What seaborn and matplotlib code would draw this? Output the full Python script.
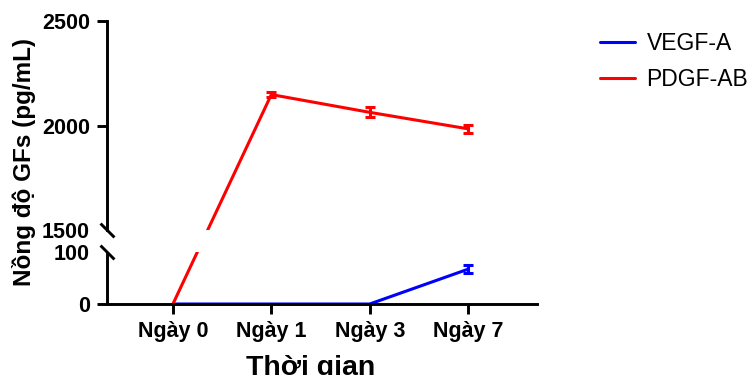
import numpy as np
import pandas as pd
import seaborn as sns
import matplotlib.pyplot as plt

# ---- data ----
days = ["Ngày 0", "Ngày 1", "Ngày 3", "Ngày 7"]
vegf = [0, 0, 0, 67]
vegf_err = [0, 0, 0, 8]
pdgf = [0, 2148, 2063, 1984]
pdgf_err = [0, 13, 24, 19]
series_names = ["VEGF-A", "PDGF-AB"]
colors = {"VEGF-A": "#0000FF", "PDGF-AB": "#FF0000"}
yticks = [0, 100, 1500, 2000, 2500]

sns.set_theme(style="ticks")
plt.rcParams['font.family'] = ['Liberation Sans', 'DejaVu Sans']
plt.rcParams['text.color'] = 'black'

# broken-axis scale: 0-100 and 1500-2500 segments
def fwd(v):
    v = np.asarray(v, dtype=float)
    return np.where(v <= 100, v * 0.52,
                    np.where(v < 1500, 52 + (v - 100) * 22 / 1400,
                             74 + (v - 1500) * 104.5 / 500))

def inv(u):
    u = np.asarray(u, dtype=float)
    return np.where(u <= 52, u / 0.52,
                    np.where(u < 74, 100 + (u - 52) * 1400 / 22,
                             1500 + (u - 74) * 500 / 104.5))

fig = plt.figure(figsize=(7.49, 3.75), dpi=100)
ax = fig.add_axes([107 / 749, 71 / 375, 430 / 749, 283 / 375])
ax.set_yscale('function', functions=(fwd, inv))

LW = 2.2
df = pd.DataFrame({
    "Ngày": days * 2,
    "value": vegf + pdgf,
    "series": [series_names[0]] * 4 + [series_names[1]] * 4,
})
sns.lineplot(data=df, x="Ngày", y="value", hue="series", palette=colors,
             hue_order=series_names, sort=False, linewidth=LW, ax=ax,
             clip_on=False)
for ln in ax.get_lines():
    ln.set_clip_on(False)
    if ln.get_label() == "VEGF-A":
        ln.set_zorder(2.3)

xpos = np.arange(len(days))
for vals, errs, name in [(vegf, vegf_err, "VEGF-A"), (pdgf, pdgf_err, "PDGF-AB")]:
    vals = np.array(vals); errs = np.array(errs)
    m = errs > 0
    ax.errorbar(xpos[m], vals[m], yerr=errs[m], fmt='none', ecolor=colors[name],
                elinewidth=LW, capsize=3.5, capthick=LW, zorder=2.4)

# gap in the data across the break
ax.axhspan(100, 1500, xmin=0.012, xmax=1, color='white', lw=0, zorder=2.6)

ax.set_xlim(-0.67, 3.7)
ax.set_ylim(0, 2500)
ax.set_yticks(yticks)
ax.set_yticklabels([str(t) for t in yticks])
ax.set_xticks(xpos)
ax.set_xticklabels(days)

SLW = 2.1
for s in ["top", "right"]:
    ax.spines[s].set_visible(False)
ax.spines["left"].set_bounds(1500, 2500)
for s in ["left", "bottom"]:
    ax.spines[s].set_linewidth(SLW)
    ax.spines[s].set_color("black")
ax.plot([0, 0], [0, 100], color="black", lw=SLW, transform=ax.get_yaxis_transform(),
        clip_on=False, zorder=3, solid_capstyle='butt')
for yv in (100, 1500):
    ax.plot([0], [yv], transform=ax.get_yaxis_transform(), marker=[(-1, 1), (1, -1)],
            markersize=10, mec="black", mew=SLW, clip_on=False, zorder=3, ls='none')

ax.tick_params(axis='both', length=7.2, width=SLW, color='black', pad=5,
               labelsize=15.5, labelcolor='black')
for lab in ax.get_xticklabels() + ax.get_yticklabels():
    lab.set_fontweight('bold')
yt = ax.yaxis.get_major_ticks()
yt[1].tick1line.set_visible(False)
yt[2].tick1line.set_visible(False)

ax.set_xlabel("Thời gian", fontsize=20.5, fontweight='bold', color='black')
ax.set_ylabel("Nồng độ GFs (pg/mL)", fontsize=17.5, fontweight='bold', color='black')
ax.xaxis.set_label_coords(0.474, -0.18)
ax.yaxis.set_label_coords(-0.165, 0.5)

handles, labels = ax.get_legend_handles_labels()
leg = ax.legend(handles, labels, loc='upper left', bbox_to_anchor=(595 / 749, 1 - 27 / 375),
                bbox_transform=fig.transFigure, frameon=False, fontsize=16.5,
                handlelength=1.55, labelspacing=0.6, borderaxespad=0, borderpad=0.2,
                handletextpad=0.5)
for t in leg.get_texts():
    t.set_color('black')
for h in leg.get_lines():
    h.set_linewidth(LW)

fig.savefig("out.png", dpi=100)
